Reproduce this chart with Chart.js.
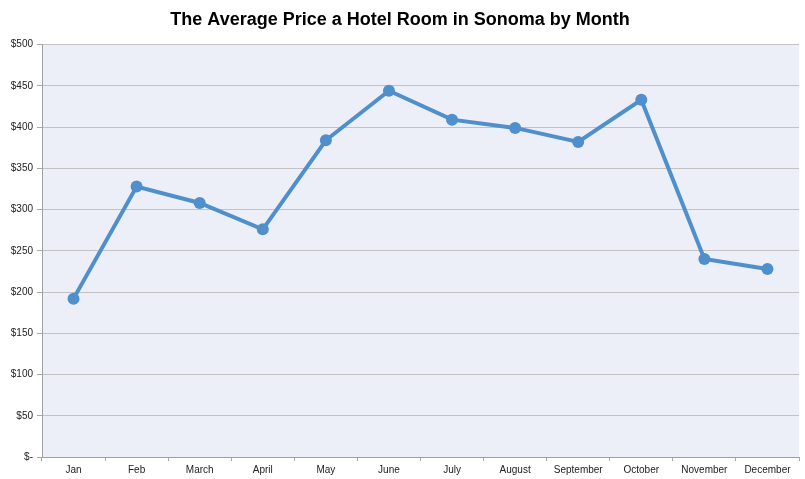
<!DOCTYPE html>
<html>
<head>
<meta charset="utf-8">
<script src="https://cdn.jsdelivr.net/npm/chart.js@4"></script>
<style>
  html, body { margin: 0; padding: 0; background: #ffffff; }
  #wrap { width: 805px; height: 479px; }
</style>
</head>
<body>
<div id="wrap"><canvas id="price-chart"></canvas></div>
<script>
const months = ['Jan', 'Feb', 'March', 'April', 'May', 'June', 'July', 'August', 'September', 'October', 'November', 'December'];
const avg_price = [192, 328, 308, 276, 384, 444, 409, 399, 382, 433, 240, 228];
const y_ticks = [0, 50, 100, 150, 200, 250, 300, 350, 400, 450, 500];

// paint the plot area before anything else
const plotBackground = {
    id: 'plotBackground',
    beforeDraw(chart) {
        const a = chart.chartArea;
        const ctx = chart.ctx;
        ctx.save();
        ctx.fillStyle = '#ECEFF7';
        ctx.fillRect(a.left, a.top, a.right - a.left, a.bottom - a.top);
        ctx.restore();
    }
};

var ctx = document.getElementById('price-chart').getContext('2d');
var chartId = new Chart(ctx, {
    type: 'line',
    data: {
        labels: months,
        datasets: [{
            label: 'Average Price',
            data: avg_price,
            borderColor: '#4F8FCC',
            backgroundColor: '#4F8FCC',
            borderWidth: 4,
            pointRadius: 6,
            pointBorderWidth: 0,
            pointBackgroundColor: '#4F8FCC',
            tension: 0,
            fill: false
        }]
    },
    options: {
        responsive: true,
        maintainAspectRatio: false,
        animation: false,
        layout: {
            padding: { left: 0, right: 5, top: 0, bottom: 0 }
        },
        plugins: {
            legend: { display: false },
            tooltip: { enabled: false },
            title: {
                display: true,
                text: 'The Average Price a Hotel Room in Sonoma by Month',
                color: '#000000',
                font: { family: 'Liberation Sans, Arial, sans-serif', size: 18, weight: 'bold', lineHeight: 1.2 },
                padding: { top: 9, bottom: 14 }
            }
        },
        scales: {
            x: {
                offset: true,
                afterFit: function(scale) { scale.height = 22; },
                grid: {
                    offset: true,
                    drawOnChartArea: false,
                    drawTicks: true,
                    tickLength: 4,
                    color: '#A8A8A8'
                },
                border: { color: '#A0A0A0', width: 1 },
                ticks: {
                    color: '#222222',
                    padding: 3,
                    maxRotation: 0,
                    autoSkip: false,
                    font: { family: 'Liberation Sans, Arial, sans-serif', size: 10 }
                }
            },
            y: {
                min: 0,
                max: 500,
                afterFit: function(scale) { scale.width = 42; },
                afterBuildTicks: function(scale) {
                    scale.ticks = y_ticks.map(function(v) { return { value: v }; });
                },
                grid: {
                    color: '#C2C2C2',
                    tickLength: 5,
                    tickColor: '#A8A8A8'
                },
                border: { color: '#A0A0A0', width: 1 },
                ticks: {
                    color: '#222222',
                    padding: 4,
                    font: { family: 'Liberation Sans, Arial, sans-serif', size: 10 },
                    callback: function(value) {
                        return value === 0 ? '$-' : '$' + value;
                    }
                }
            }
        }
    },
    plugins: [plotBackground]
});
</script>
</body>
</html>
